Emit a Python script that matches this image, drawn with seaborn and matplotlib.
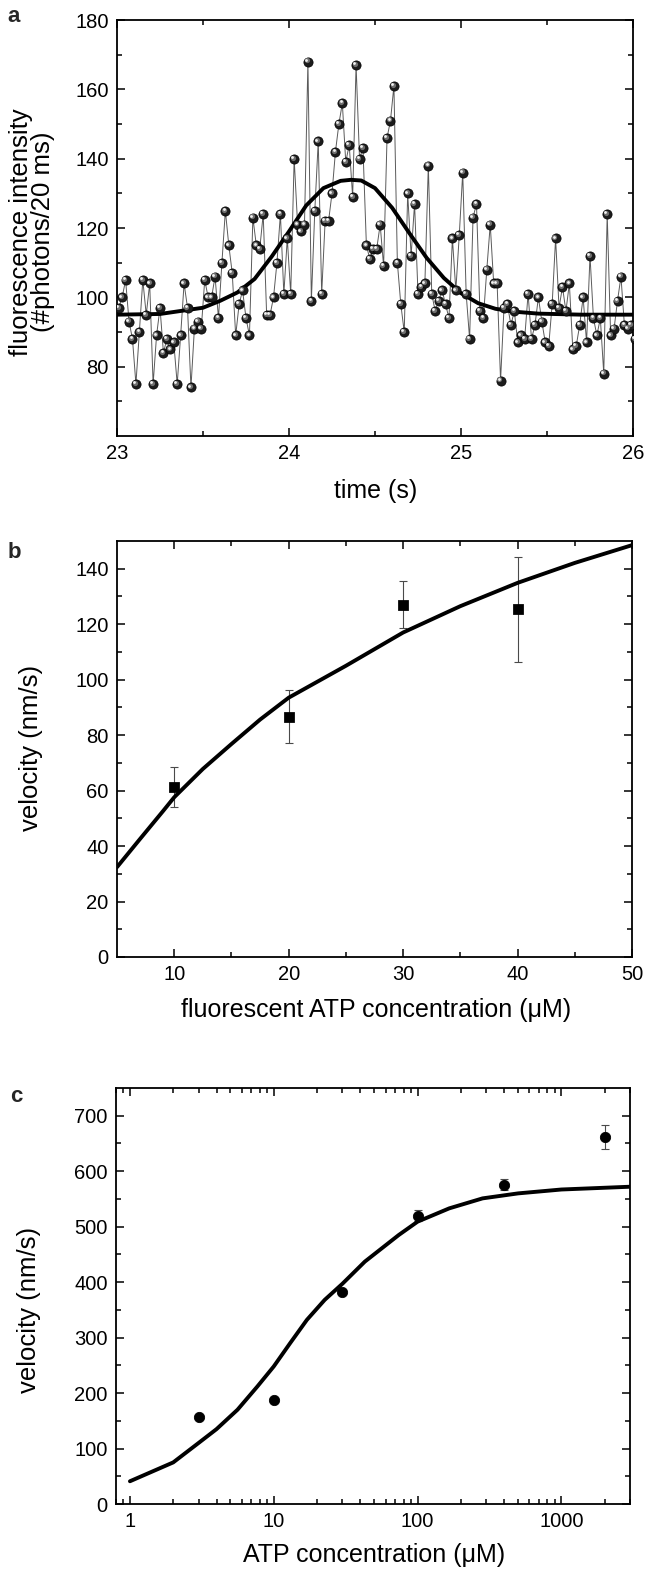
import numpy as np
import pandas as pd
import matplotlib
matplotlib.use("Agg")
import matplotlib.pyplot as plt
import matplotlib.transforms as mtransforms
from matplotlib import font_manager
import seaborn as sns

# ---- panel a: single-molecule photon trace (one value per 20 ms frame) ----
frame_start = 23.01   # s
frame_dt = 0.02       # s
photon_counts = [
    97, 100, 105, 93, 88, 75, 90, 105, 95, 104,
    75, 89, 97, 84, 88, 85, 87, 75, 89, 104,
    97, 74, 91, 93, 91, 105, 100, 100, 106, 94,
    110, 125, 115, 107, 89, 98, 102, 94, 89, 123,
    115, 114, 124, 95, 95, 100, 110, 124, 101, 117,
    101, 140, 121, 119, 121, 168, 99, 125, 145, 101,
    122, 122, 130, 142, 150, 156, 139, 144, 129, 167,
    140, 143, 115, 111, 114, 114, 121, 109, 146, 151,
    161, 110, 98, 90, 130, 112, 127, 101, 103, 104,
    138, 101, 96, 99, 102, 98, 94, 117, 102, 118,
    136, 101, 88, 123, 127, 96, 94, 108, 121, 104,
    104, 76, 97, 98, 92, 96, 87, 89, 88, 101,
    88, 92, 100, 93, 87, 86, 98, 117, 97, 103,
    96, 104, 85, 86, 92, 100, 87, 112, 94, 89,
    94, 78, 124, 89, 91, 99, 106, 92, 91, 92,
    88,
]
gauss_time = [23.0, 23.25, 23.5, 23.6, 23.7, 23.8, 23.9, 24.0, 24.1, 24.2,
              24.3, 24.36, 24.42, 24.5, 24.6, 24.7, 24.8, 24.9, 25.0, 25.1,
              25.2, 25.3, 25.45, 25.7, 26.0]
gauss_counts = [95.0, 95.2, 97.0, 99.0, 101.4, 105.3, 111.8, 119.0, 126.5, 131.5,
                133.6, 133.9, 133.7, 131.5, 125.8, 118.5, 111.4, 105.6, 101.2, 98.3,
                96.7, 95.9, 95.3, 95.0, 95.0]

# ---- panel b: velocity vs fluorescent ATP ----
fl_atp = [10, 20, 30, 40]
fl_velocity = [61.4, 86.6, 127.1, 125.4]
fl_velocity_err = [7.2, 9.6, 8.5, 18.9]
fl_fit_atp = [5, 7, 9, 10, 12.5, 15, 17.5, 20, 25, 30, 35, 40, 45, 50]
fl_fit_velocity = [32.4, 42.5, 52.5, 57.6, 67.8, 76.8, 85.6, 93.5, 105.0, 117.0,
                   126.5, 134.9, 142.1, 148.5]

# ---- panel c: velocity vs ATP (log axis) ----
atp = [3, 10, 30, 100, 400, 2000]
velocity = [157, 188, 383, 520, 576, 662]
velocity_err = [4, 4, 4, 10, 10, 22]
mm_fit_atp = [1, 2, 3, 4, 5.6, 7.7, 10, 13, 17, 22.6, 30, 43, 74, 100, 166, 283,
              500, 1000, 3000]
mm_fit_velocity = [41, 75, 110, 135, 170, 212, 248, 290, 332, 368, 397, 437, 485,
                   509, 533, 551, 560, 567, 572]

W, H = 645, 1571
sns.set_style("ticks")
plt.rcParams['font.family'] = ['Liberation Sans', 'DejaVu Sans']
plt.rcParams['axes.linewidth'] = 1.3

# the original lettering is tall and narrow; use the narrow cut if it exists
installed = {f.name for f in font_manager.fontManager.ttflist}
if 'Liberation Sans Narrow' in installed:
    narrow = ['Liberation Sans Narrow', 'Liberation Sans', 'DejaVu Sans']
    tick_size, xlab_size, letter_size = 16.5, 21.5, 19
else:
    narrow = ['Liberation Sans', 'DejaVu Sans']
    tick_size, xlab_size, letter_size = 14.5, 18, 16
ylab_size = 18.5

fig = plt.figure(figsize=(W / 100, H / 100), dpi=100)


def px_axes(left, top, right, bottom):
    return fig.add_axes([left / W, 1 - bottom / H, (right - left) / W, (bottom - top) / H])


def style_axes(ax):
    for s in ax.spines.values():
        s.set_color('black')
        s.set_linewidth(1.3)
    ax.tick_params(which='both', direction='in', top=True, right=True,
                   color='black', width=1.1, labelcolor='black')
    ax.tick_params(which='major', length=6, pad=6)
    ax.tick_params(which='minor', length=3.5)
    for t in ax.get_xticklabels() + ax.get_yticklabels():
        t.set_family(narrow)
        t.set_fontsize(tick_size)
    ax.set_xlabel('')
    ax.set_ylabel('')


ax_a = px_axes(117, 20, 633, 436)
ax_b = px_axes(117, 541, 632, 957)
ax_c = px_axes(116, 1088, 630, 1504)

# panel a
trace = pd.DataFrame({'time': frame_start + frame_dt * np.arange(len(photon_counts)),
                      'counts': photon_counts})
sns.lineplot(data=trace, x='time', y='counts', ax=ax_a, color='#5a5a5a', lw=0.7,
             estimator=None, sort=False, zorder=2)
sns.lineplot(x=gauss_time, y=gauss_counts, ax=ax_a, color='black', lw=2.8, zorder=3)


def shifted(ax, dx, dy):
    return ax.transData + mtransforms.ScaledTranslation(dx / 72, dy / 72, fig.dpi_scale_trans)


# shaded "ball" markers: dark body, grey shading, small glint
sns.scatterplot(data=trace, x='time', y='counts', ax=ax_a, s=44, color='#1c1c1c',
                edgecolor='black', linewidth=0.5, zorder=4)
sns.scatterplot(data=trace, x='time', y='counts', ax=ax_a, s=14, color='#707070',
                linewidth=0, transform=shifted(ax_a, -0.8, 0.8), zorder=5)
sns.scatterplot(data=trace, x='time', y='counts', ax=ax_a, s=4, color='#f2f2f2',
                linewidth=0, transform=shifted(ax_a, -1.3, 1.3), zorder=6)
ax_a.set_xlim(23, 26)
ax_a.set_ylim(60, 180)
ax_a.set_xticks([23, 24, 25, 26])
ax_a.set_xticks([23.5, 24.5, 25.5], minor=True)
ax_a.set_yticks([80, 100, 120, 140, 160, 180])
ax_a.set_yticks([70, 90, 110, 130, 150, 170], minor=True)
style_axes(ax_a)

# panel b
ax_b.errorbar(fl_atp, fl_velocity, yerr=fl_velocity_err, fmt='none', ecolor='#4a4a4a',
              elinewidth=0.8, capsize=3, capthick=0.8, zorder=2)
sns.lineplot(x=fl_fit_atp, y=fl_fit_velocity, ax=ax_b, color='black', lw=2.8, zorder=3)
sns.scatterplot(x=fl_atp, y=fl_velocity, ax=ax_b, marker='s', s=48, color='black',
                edgecolor='black', zorder=4)
ax_b.set_xlim(5, 50)
ax_b.set_ylim(0, 150)
ax_b.set_xticks([10, 20, 30, 40, 50])
ax_b.set_xticks([15, 25, 35, 45], minor=True)
ax_b.set_yticks([0, 20, 40, 60, 80, 100, 120, 140])
ax_b.set_yticks([10, 30, 50, 70, 90, 110, 130], minor=True)
style_axes(ax_b)

# panel c
ax_c.set_xscale('log')
ax_c.errorbar(atp, velocity, yerr=velocity_err, fmt='none', ecolor='#4a4a4a',
              elinewidth=0.8, capsize=3, capthick=0.8, zorder=2)
sns.lineplot(x=mm_fit_atp, y=mm_fit_velocity, ax=ax_c, color='black', lw=2.8, zorder=3)
sns.scatterplot(x=atp, y=velocity, ax=ax_c, marker='o', s=55, color='black',
                edgecolor='black', zorder=4)
ax_c.set_xlim(0.8, 3000)
ax_c.set_ylim(0, 750)
ax_c.set_xticks([1, 10, 100, 1000])
ax_c.set_xticklabels(['1', '10', '100', '1000'])
ax_c.xaxis.set_minor_locator(matplotlib.ticker.LogLocator(base=10, subs=np.arange(2, 10)))
ax_c.xaxis.set_minor_formatter(matplotlib.ticker.NullFormatter())
ax_c.set_yticks([0, 100, 200, 300, 400, 500, 600, 700])
ax_c.set_yticks([50, 150, 250, 350, 450, 550, 650], minor=True)
style_axes(ax_c)

# panel letters and axis titles
for x, y, s in [(14, 16, 'a'), (14.5, 553, 'b'), (16.5, 1097, 'c')]:
    fig.text(x / W, 1 - y / H, s, weight='bold', size=letter_size, family=narrow,
             ha='center', va='center')

ylab = dict(size=ylab_size, color='black', rotation=90, ha='center', va='center')
xlab = dict(size=xlab_size, color='black', family=narrow, ha='center', va='center')
fig.text(32 / W, 1 - 232 / H, 'fluorescence intensity\n(#photons/20 ms)',
         multialignment='center', linespacing=0.92, **ylab)
fig.text(31 / W, 1 - 748 / H, 'velocity (nm/s)', **ylab)
fig.text(29 / W, 1 - 1310 / H, 'velocity (nm/s)', **ylab)
fig.text(376 / W, 1 - 491 / H, 'time (s)', **xlab)
fig.text(376 / W, 1 - 1010 / H, 'fluorescent ATP concentration (μM)', **xlab)
fig.text(374 / W, 1 - 1555 / H, 'ATP concentration (μM)', **xlab)

fig.savefig('out.png', dpi=100)
